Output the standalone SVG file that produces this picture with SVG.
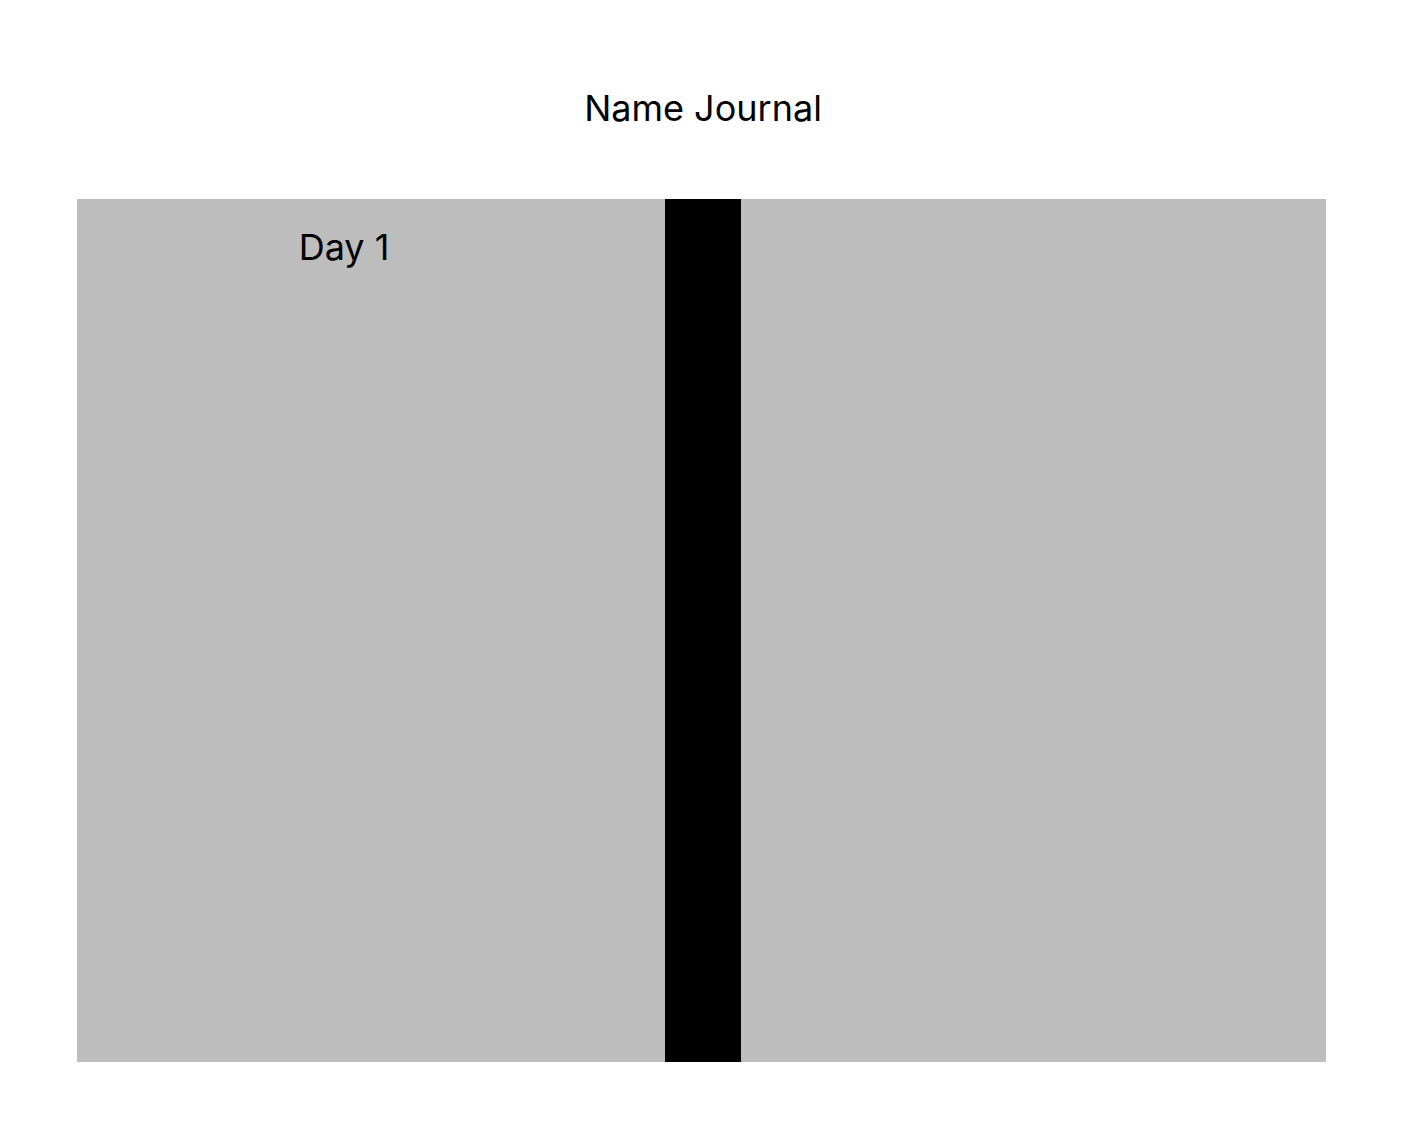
<svg xmlns="http://www.w3.org/2000/svg" width="1403" height="1140" viewBox="0 0 1403 1140">
<style>
.t{font-family:Inter,"Liberation Sans",sans-serif;font-size:36px;fill:#000}
.page{fill:#bdbdbd}
</style>
<rect width="1403" height="1140" fill="#fff"/>
<g id="title"><text class="t" x="703" y="121" text-anchor="middle">Name Journal</text></g>
<g id="left-page"><rect class="page" x="77" y="199" width="588" height="863"/></g>
<g id="right-page"><rect class="page" x="741" y="199" width="585" height="863"/></g>
<g id="spine"><rect x="665" y="199" width="76" height="863" fill="#000"/></g>
<g id="day1"><text class="t" x="344" y="260" text-anchor="middle">Day 1</text></g>
<g id="connectors"/>
</svg>
